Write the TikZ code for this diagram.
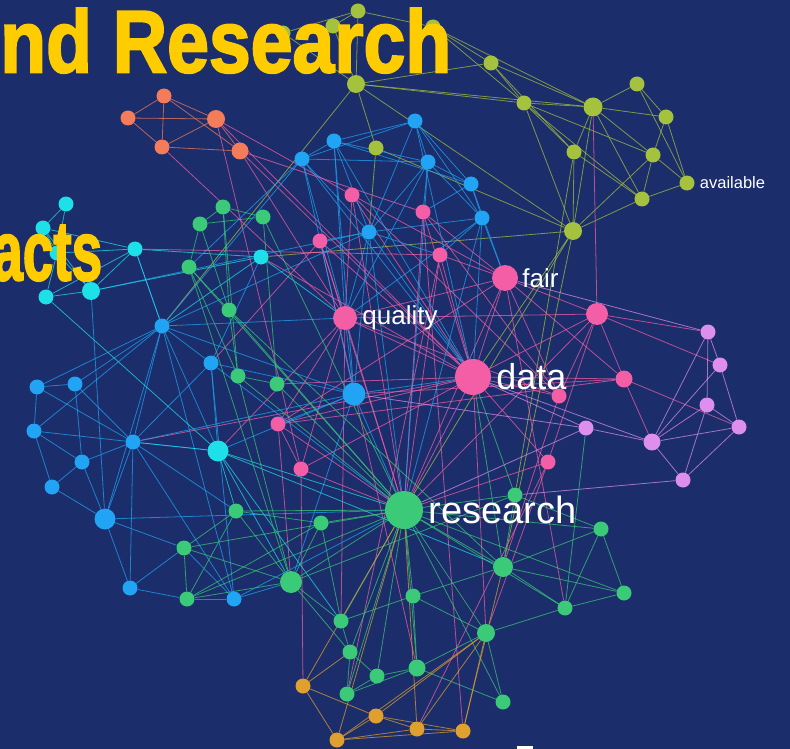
\documentclass[tikz,border=0pt]{standalone}
\usepackage{fontspec}
\setmainfont{Liberation Sans}
\newfontfamily\headfont{Liberation Sans}[BoldFont={* Bold}, BoldFeatures={FakeBold=2.5}]
\usepackage{graphicx}
\usetikzlibrary{positioning}

\definecolor{navy}{RGB}{27,45,107}
\definecolor{cyell}{RGB}{255,204,0}
\definecolor{colive}{RGB}{165,194,62}
\definecolor{cblue}{RGB}{32,164,243}
\definecolor{ccyan}{RGB}{30,224,232}
\definecolor{cgreen}{RGB}{58,202,120}
\definecolor{cpink}{RGB}{244,94,166}
\definecolor{cviolet}{RGB}{221,142,238}
\definecolor{corange}{RGB}{224,160,48}
\definecolor{csalmon}{RGB}{244,124,90}

\pgfdeclarelayer{bg}
\pgfdeclarelayer{links}
\pgfsetlayers{bg,links,main}

\tikzset{
  dot/.style={circle, fill=#1, inner sep=0pt, minimum size=15pt},
  edge/.style={draw=#1, line width=0.8pt, opacity=0.72},
  lbl/.style={text=white, inner sep=0pt, anchor=west}
}

\begin{document}
\begin{tikzpicture}[x=1pt, y=-1pt]
  \useasboundingbox (0,0) rectangle (790,749);
  \begin{pgfonlayer}{bg}
    \fill[navy] (0,0) rectangle (790,749);
  \end{pgfonlayer}
  % olive group
  \node[dot=colive] (o1) at (358,11) {};
  \node[dot=colive] (o2) at (333,26) {};
  \node[dot=colive] (o3) at (283,33) {};
  \node[dot=colive] (o4) at (433,27) {};
  \node[dot=colive, minimum size=18pt] (o5) at (356,84) {};
  \node[dot=colive] (o6) at (376,148) {};
  \node[dot=colive] (o7) at (491,63) {};
  \node[dot=colive] (o8) at (524,103) {};
  \node[dot=colive, minimum size=19pt] (o9) at (593,107) {};
  \node[dot=colive] (o10) at (637,84) {};
  \node[dot=colive] (o11) at (666,117) {};
  \node[dot=colive] (o12) at (574,152) {};
  \node[dot=colive] (o13) at (653,155) {};
  \node[dot=colive] (o14) at (687,183) {};
  \node[dot=colive] (o15) at (642,199) {};
  \node[dot=colive, minimum size=18pt] (o16) at (573,231) {};
  % blue group
  \node[dot=cblue] (b1) at (302,159) {};
  \node[dot=cblue] (b2) at (334,141) {};
  \node[dot=cblue] (b3) at (415,121) {};
  \node[dot=cblue] (b4) at (428,162) {};
  \node[dot=cblue] (b5) at (471,184) {};
  \node[dot=cblue] (b6) at (482,218) {};
  \node[dot=cblue] (b7) at (369,232) {};
  \node[dot=cblue] (b8) at (162,326) {};
  \node[dot=cblue] (b9) at (211,363) {};
  \node[dot=cblue, minimum size=23pt] (b10) at (354,394) {};
  \node[dot=cblue] (b11) at (37,387) {};
  \node[dot=cblue] (b12) at (75,384) {};
  \node[dot=cblue] (b13) at (34,431) {};
  \node[dot=cblue] (b14) at (133,442) {};
  \node[dot=cblue] (b15) at (82,462) {};
  \node[dot=cblue] (b16) at (52,487) {};
  \node[dot=cblue, minimum size=21pt] (b17) at (105,519) {};
  \node[dot=cblue] (b18) at (130,588) {};
  \node[dot=cblue] (b19) at (234,599) {};
  % cyan group
  \node[dot=ccyan] (c1) at (66,204) {};
  \node[dot=ccyan] (c2) at (43,228) {};
  \node[dot=ccyan] (c3) at (57,253) {};
  \node[dot=ccyan] (c4) at (135,249) {};
  \node[dot=ccyan] (c5) at (261,257) {};
  \node[dot=ccyan] (c6) at (46,297) {};
  \node[dot=ccyan, minimum size=18pt] (c7) at (91,291) {};
  \node[dot=ccyan, minimum size=21pt] (c8) at (218,451) {};
  % salmon group
  \node[dot=csalmon] (s1) at (164,96) {};
  \node[dot=csalmon] (s2) at (128,118) {};
  \node[dot=csalmon, minimum size=18pt] (s3) at (216,119) {};
  \node[dot=csalmon] (s4) at (162,147) {};
  \node[dot=csalmon, minimum size=17pt] (s5) at (240,151) {};
  % pink group
  \node[dot=cpink] (p1) at (352,195) {};
  \node[dot=cpink] (p2) at (320,241) {};
  \node[dot=cpink] (p3) at (423,212) {};
  \node[dot=cpink] (p4) at (440,255) {};
  \node[dot=cpink, minimum size=24pt] (Q) at (345,318) {};
  \node[dot=cpink, minimum size=26pt] (F) at (505,278) {};
  \node[dot=cpink, minimum size=36pt] (D) at (473,377) {};
  \node[dot=cpink, minimum size=22pt] (p5) at (597,314) {};
  \node[dot=cpink, minimum size=17pt] (p6) at (624,379) {};
  \node[dot=cpink] (p7) at (559,396) {};
  \node[dot=cpink] (p8) at (548,462) {};
  \node[dot=cpink] (p9) at (278,424) {};
  \node[dot=cpink] (p10) at (301,469) {};
  % violet group
  \node[dot=cviolet] (v1) at (708,332) {};
  \node[dot=cviolet] (v2) at (720,365) {};
  \node[dot=cviolet] (v3) at (707,405) {};
  \node[dot=cviolet] (v4) at (739,427) {};
  \node[dot=cviolet] (v5) at (586,428) {};
  \node[dot=cviolet, minimum size=17pt] (v6) at (652,442) {};
  \node[dot=cviolet] (v7) at (683,480) {};
  % green group
  \node[dot=cgreen] (g1) at (223,207) {};
  \node[dot=cgreen] (g2) at (200,224) {};
  \node[dot=cgreen] (g3) at (263,217) {};
  \node[dot=cgreen] (g4) at (189,267) {};
  \node[dot=cgreen] (g5) at (229,310) {};
  \node[dot=cgreen] (g6) at (238,376) {};
  \node[dot=cgreen] (g7) at (277,384) {};
  \node[dot=cgreen, minimum size=38pt] (R) at (404,510) {};
  \node[dot=cgreen] (g8) at (236,511) {};
  \node[dot=cgreen] (g9) at (321,523) {};
  \node[dot=cgreen] (g10) at (184,548) {};
  \node[dot=cgreen, minimum size=22pt] (g11) at (291,582) {};
  \node[dot=cgreen] (g12) at (187,599) {};
  \node[dot=cgreen] (g13) at (341,621) {};
  \node[dot=cgreen] (g14) at (350,652) {};
  \node[dot=cgreen] (g15) at (377,676) {};
  \node[dot=cgreen] (g16) at (347,694) {};
  \node[dot=cgreen] (g17) at (515,495) {};
  \node[dot=cgreen] (g18) at (601,529) {};
  \node[dot=cgreen, minimum size=20pt] (g19) at (503,567) {};
  \node[dot=cgreen] (g20) at (413,596) {};
  \node[dot=cgreen] (g21) at (624,593) {};
  \node[dot=cgreen] (g22) at (565,608) {};
  \node[dot=cgreen, minimum size=18pt] (g23) at (486,633) {};
  \node[dot=cgreen, minimum size=17pt] (g24) at (417,668) {};
  \node[dot=cgreen] (g25) at (503,702) {};
  % orange group
  \node[dot=corange] (y1) at (303,686) {};
  \node[dot=corange] (y2) at (376,716) {};
  \node[dot=corange] (y3) at (337,740) {};
  \node[dot=corange] (y4) at (417,729) {};
  \node[dot=corange] (y5) at (463,731) {};
  % labels
  \node[lbl, right=5pt of D, font=\fontsize{36}{36}\selectfont] {data};
  \node[lbl, right=5pt of R, font=\fontsize{38}{38}\selectfont] {research};
  \node[lbl, right=5pt of Q, font=\fontsize{26}{26}\selectfont] {quality};
  \node[lbl, right=4pt of F, font=\fontsize{26}{26}\selectfont] {fair};
  \node[lbl, right=5pt of o14, font=\fontsize{16.5}{16.5}\selectfont] {available};

  \begin{pgfonlayer}{links}
    % olive links
    \foreach \a/\b in {o1/o2,o1/o4,o1/o5,o2/o5,o3/o5,o3/o1,o4/o7,o4/o8,o4/o9,o5/o7,o5/o8,o5/o9,
      o5/o16,o5/b8,o5/o6,o6/o16,o7/o8,o7/o9,o7/o12,o8/o9,o8/o12,o8/o15,o8/o13,o9/o10,o9/o11,
      o9/o12,o9/o13,o9/o15,o9/o16,o10/o11,o10/o14,o11/o13,o11/o14,o13/o14,o13/o15,o13/o16,
      o15/o16,o12/o16,o14/o15,o12/o15,o16/c5,o16/g19,o16/R,o6/b7,o8/o16,o12/g17,o16/D}
      \draw[edge=colive] (\a) -- (\b);
    % salmon links
    \foreach \a/\b in {s1/s2,s1/s3,s1/s4,s1/s5,s2/s3,s2/s4,s3/s4,s3/s5,s4/s5}
      \draw[edge=csalmon] (\a) -- (\b);
    % pink links
    \foreach \a/\b in {s4/Q,s5/D,s5/Q,s5/p3,s3/D,s3/p10,D/Q,D/F,D/p1,D/p2,D/p3,D/p4,D/p5,D/p6,
      D/p7,D/p8,D/p9,D/p10,D/R,D/c5,D/g7,D/b14,D/g23,Q/F,Q/p1,Q/p2,Q/p9,Q/p10,Q/R,Q/p5,Q/p7,
      F/p3,F/p4,F/p5,F/p6,F/p7,F/p1,F/R,F/g22,F/p9,p5/p6,p5/p7,p5/p8,p5/v1,p5/v2,p5/o9,p5/R,
      p6/v6,p6/v4,p6/p9,p6/b10,p1/R,p2/R,p3/R,p4/R,p4/c4,p3/p7,p9/p10,p9/R,p9/g11,p10/R,
      p10/y1,p8/R,p8/g23,p8/y4,p7/g19,p2/b9,p1/s3,p3/y5,p4/g16,Q/g13,p2/g24,p1/p7,Q/c8}
      \draw[edge=cpink] (\a) -- (\b);
    % violet links
    \foreach \a/\b in {v1/v2,v1/v6,v1/v3,v2/v4,v2/v6,v3/v4,v3/v6,v4/v6,v4/v7,v6/v7,v3/v7,
      v5/v6,v7/g17,v5/R,v5/D,v6/D,v5/b10,v1/F}
      \draw[edge=cviolet] (\a) -- (\b);
    % blue links
    \foreach \a/\b in {b1/b2,b1/b7,b1/b10,b1/Q,b1/b4,b1/b8,b1/g4,b1/D,b2/b3,b2/b5,b2/b4,b2/b7,
      b2/Q,b2/b10,b2/D,b3/b4,b3/b5,b3/b6,b3/b7,b3/b1,b3/D,b4/b5,b4/b6,b4/b7,b4/p3,b4/Q,b4/R,
      b5/b6,b5/p3,b5/F,b6/p4,b6/F,b6/D,b6/b7,b6/Q,b7/p2,b7/Q,b7/p4,b7/b10,b7/D,b7/c7,b7/b8,
      b7/R,b8/b11,b8/b12,b8/b14,b8/b17,b8/b13,b8/c4,b8/b9,b8/b10,b8/Q,b8/c8,b8/b19,b9/c5,
      b9/b10,b9/b14,b9/c8,b9/R,b10/Q,b10/D,b10/p9,b10/R,b10/c8,b10/b14,b11/b13,b11/b12,
      b11/b14,b12/b15,b12/b14,b13/b16,b13/b14,b13/b15,b14/b15,b14/b17,b14/b19,b14/b18,b14/c8,
      b15/b16,b15/b17,b16/b17,b17/b18,b17/g10,b17/R,b17/c7,b18/g10,b18/g12,b19/g12,b19/g11,
      b19/g10,b19/R,b19/b9,b14/g8,b10/g11,b6/R}
      \draw[edge=cblue] (\a) -- (\b);
    % cyan links
    \foreach \a/\b in {c1/c2,c1/c3,c2/c3,c2/c4,c2/c7,c3/c4,c3/c6,c3/c7,c4/c7,c4/c6,c6/c7,
      c6/c8,c7/c5,c4/c5,c5/Q,c4/b8,c8/b14,c8/R,c8/g8,c8/g11,c8/g19,c8/g13,c5/b8}
      \draw[edge=ccyan] (\a) -- (\b);
    % green links
    \foreach \a/\b in {g1/g2,g1/g3,g2/g4,g2/g3,g1/g5,g2/g5,g4/g5,g4/g6,g5/g6,g6/g7,g3/g7,
      g1/g6,g4/R,g5/R,g6/R,g7/R,g3/R,g4/g11,g8/g10,g8/g11,g8/g12,g8/R,g8/g9,g10/g12,
      g10/g11,g10/R,g11/g12,g11/R,g11/g13,g11/g9,g11/g14,g13/R,g13/g14,g14/g15,g14/g16,
      g15/g16,g15/R,g16/g24,g17/R,g17/g19,g17/g18,g18/g19,g18/g21,g18/g22,g19/g22,g19/g21,
      g19/R,g19/g20,g20/R,g20/g24,g21/g22,g22/g23,g23/R,g23/g25,g23/g24,g23/g20,g24/R,
      g24/g25,g25/R,g9/R,g12/R,g14/R,g16/R,g18/R,g21/R,g22/R,g17/D,g19/D,g22/v5,g20/g13,
      g9/g13,g15/g24,g12/g9,g6/g11,g5/g19,g17/g11}
      \draw[edge=cgreen] (\a) -- (\b);
    % orange links
    \foreach \a/\b in {y1/y2,y1/y3,y2/y3,y2/y4,y2/y5,y3/y4,y3/y5,y4/y5,y2/g23,y3/g23,y4/g23,
      y5/g23,y3/R,y4/R,y1/R,y5/g19,y1/g14}
      \draw[edge=corange] (\a) -- (\b);
  \end{pgfonlayer}

  % headings over the graph
  \node[anchor=north west, inner sep=0pt, text=cyell] (head) at (0,8)
    {\resizebox{451pt}{64pt}{\headfont\bfseries nd Research}};
  \node[anchor=north west, inner sep=0pt, text=cyell] (side) at (-8,225)
    {\resizebox{110pt}{55pt}{\headfont\bfseries acts}};
  \fill[white] (517,746) rectangle (533,749);
\end{tikzpicture}
\end{document}
